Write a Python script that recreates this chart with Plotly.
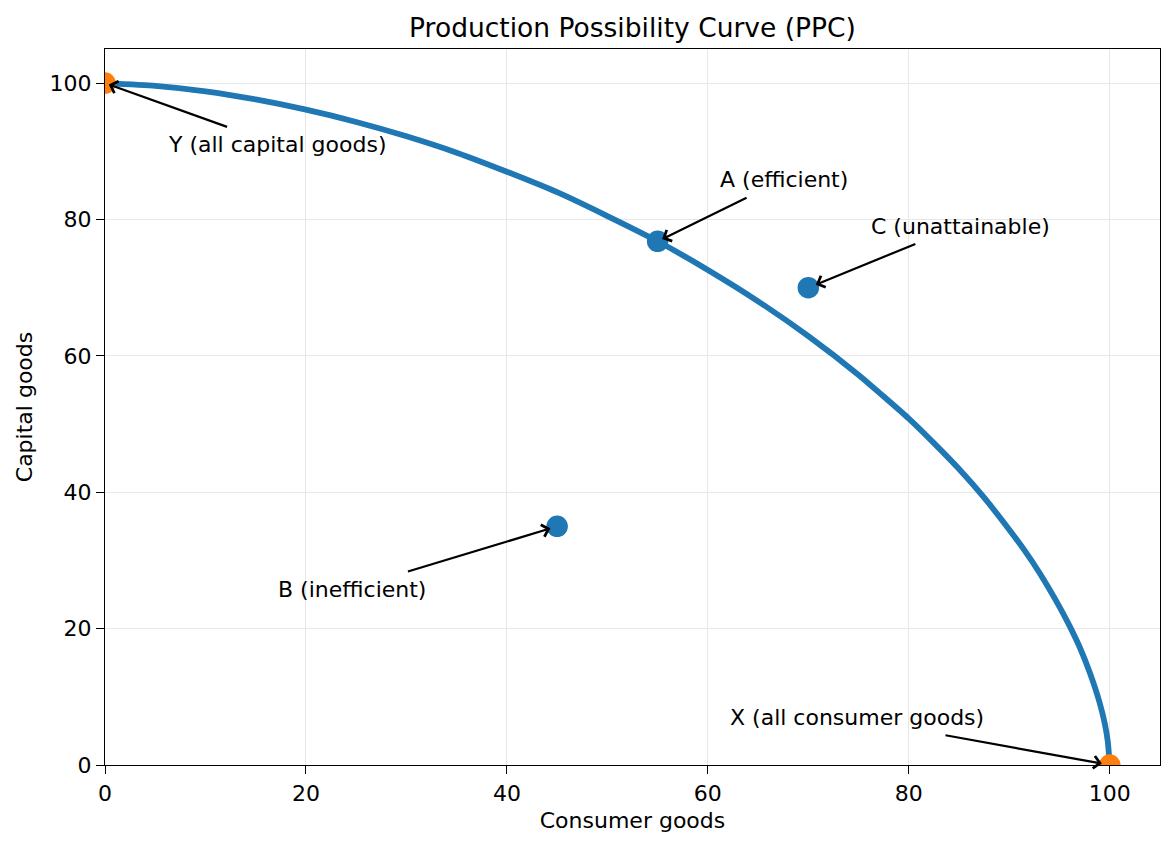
import plotly.graph_objects as go

# PPC curve readings (consumer goods, capital goods)
curve_x = [0, 5, 10, 15, 20, 25, 30, 35, 40, 45, 50, 55, 60, 65, 70, 75, 80, 82.5, 85, 87.5, 90, 91.5, 93, 95, 96, 97, 98, 99, 99.5, 99.8, 100]
curve_y = [100, 99.6, 98.8, 97.6, 96.1, 94.3, 92.2, 89.8, 87.0, 84.0, 80.5, 76.8, 72.6, 68.0, 62.9, 57.2, 50.8, 47.2, 43.4, 39.2, 34.5, 31.5, 28.2, 23.2, 20.4, 17.3, 13.6, 9.1, 6.1, 3.5, 0]

# Labelled points A, B, C
pt_names = ["A", "B", "C"]
pt_x = [55, 45, 70]
pt_y = [76.8, 35, 70]

# Endpoints X and Y
end_names = ["Y", "X"]
end_x = [0, 100]
end_y = [100, 0]

# Annotations: label, target point, text position, arrow tail
ann_text = ["Y (all capital goods)", "A (efficient)", "C (unattainable)", "B (inefficient)", "X (all consumer goods)"]
ann_tx = [0, 55, 70, 45, 100]
ann_ty = [100, 76.8, 70, 35, 0]
ann_lx = [6.1, 61.0, 76.0, 17.0, 62.0]
ann_ly = [91.0, 85.8, 78.9, 25.8, 7.0]
ann_ax = [12.3, 64.0, 80.8, 30.0, 83.5]
ann_ay = [93.5, 83.3, 76.5, 28.3, 4.4]
ann_standoff = [4, 5, 8, 7, 8]

tick_vals = [0, 20, 40, 60, 80, 100]

FONT = "DejaVu Sans"
BLUE = "#1f77b4"
ORANGE = "#ff7f0e"
W, H = 1167, 842

fig = go.Figure()
fig.add_trace(go.Scatter(x=curve_x, y=curve_y, mode="lines",
                         line=dict(color=BLUE, width=5.8, shape="spline", smoothing=0.5),
                         hoverinfo="skip", showlegend=False))
fig.add_trace(go.Scatter(x=pt_x, y=pt_y, mode="markers", text=pt_names,
                         marker=dict(color=BLUE, size=21.5, line=dict(width=0)),
                         showlegend=False))
fig.add_trace(go.Scatter(x=end_x, y=end_y, mode="markers", text=end_names,
                         marker=dict(color=ORANGE, size=21.5, line=dict(width=0)),
                         showlegend=False))

annotations = []
for i in range(len(ann_text)):
    annotations.append(dict(
        x=ann_tx[i], y=ann_ty[i], xref="x", yref="y",
        ax=ann_ax[i], ay=ann_ay[i], axref="x", ayref="y",
        text="", showarrow=True, arrowhead=4, arrowsize=1.1,
        arrowwidth=2.2, arrowcolor="black", standoff=ann_standoff[i]))
    annotations.append(dict(
        x=ann_lx[i], y=ann_ly[i], xref="x", yref="y",
        text=ann_text[i], showarrow=False, xanchor="left", yanchor="middle",
        font=dict(family=FONT, size=22, color="black")))

axis_common = dict(
    range=[0, 105], tickvals=tick_vals, ticks="outside", ticklen=8, tickwidth=1.3,
    tickcolor="black", showline=True, linecolor="black", linewidth=1.3, mirror=True,
    showgrid=True, gridcolor="#e7e7e7", gridwidth=1.3, zeroline=False,
    tickfont=dict(family=FONT, size=22, color="black"))

fig.update_layout(
    width=W, height=H,
    margin=dict(l=97, r=15, t=41, b=85),
    paper_bgcolor="white", plot_bgcolor="white",
    title=dict(text="Production Possibility Curve (PPC)", x=0.5, xref="paper",
               y=1 - 20 / H, yref="container", yanchor="middle",
               font=dict(family=FONT, size=26.5, color="black")),
    xaxis=dict(title=dict(text="Consumer goods", standoff=8,
                          font=dict(family=FONT, size=22, color="black")), **axis_common),
    yaxis=dict(title=dict(text="Capital goods", standoff=10,
                          font=dict(family=FONT, size=22, color="black")), **axis_common),
    annotations=annotations,
    font=dict(family=FONT),
)

fig.write_html("out.html")
